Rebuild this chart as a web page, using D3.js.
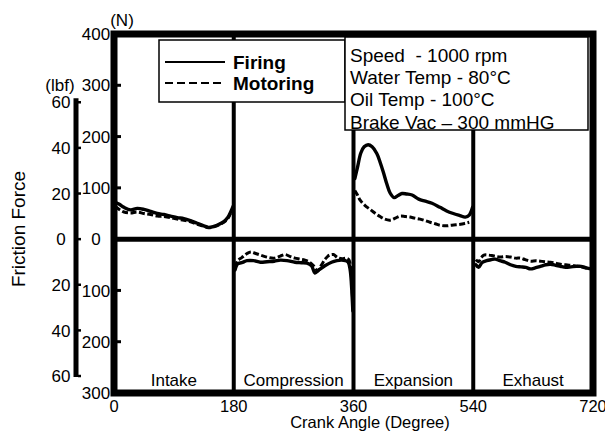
<!DOCTYPE html>
<html>
<head>
<meta charset="utf-8">
<script src="https://cdn.jsdelivr.net/npm/d3@7"></script>
<style>
  html, body { margin: 0; padding: 0; background: #fff; }
  svg { display: block; font-family: "Liberation Sans", Arial, Helvetica, sans-serif; }
  text { fill: #000; }
</style>
</head>
<body>
<svg id="chart" width="605" height="438"></svg>
<script>
// Stroke phases along the crank angle axis
const strokeLabels = ["Intake", "Compression", "Expansion", "Exhaust"];
const crankTicks = [0, 180, 360, 540, 720];

// Force axis ticks (signed: positive above the zero line, negative below)
const newtonTicks = [400, 300, 200, 100, 0, -100, -200, -300];
const lbfTicks = [60, 40, 20, 0, -20, -40, -60];
const N_PER_LBF = 4.448;

// Friction force [crank angle (deg), force (N)] — firing
const firingIntake = [[2,72],[8,68],[15,62],[25,57],[35,60],[45,58],[55,54],[65,50],[75,48],[85,45],[95,42],[105,40],[115,36],[125,31],[135,26],[142,23],[150,25],[158,29],[165,34],[171,42],[175,52],[179,64]];
const firingCompression = [[182,-60],[186,-48],[192,-46],[200,-42],[210,-42],[220,-45],[230,-44],[241,-43],[250,-41],[260,-42],[272,-45],[282,-46],[290,-47],[297,-52],[302,-66],[308,-60],[317,-52],[327,-45],[335,-42],[342,-41],[348,-42],[352,-45],[355,-60],[357,-90],[359,-140]];
const firingExpansion = [[362,118],[366,140],[371,168],[376,180],[382,184],[388,180],[395,167],[400,150],[405,130],[410,108],[415,90],[421,81],[427,85],[433,89],[440,88],[448,86],[458,78],[468,74],[478,70],[490,62],[500,55],[510,50],[520,46],[528,43],[534,47],[539,62]];
const firingExhaust = [[544,-50],[548,-55],[553,-46],[560,-42],[567,-40],[573,-39],[580,-42],[588,-45],[596,-50],[604,-53],[612,-54],[619,-55],[626,-58],[633,-56],[641,-53],[649,-50],[656,-49],[664,-51],[671,-53],[679,-55],[687,-54],[695,-53],[702,-53],[710,-56],[717,-58]];

// Friction force [crank angle (deg), force (N)] — motoring
const motoringIntake = [[2,64],[8,58],[15,53],[25,51],[35,53],[45,50],[55,48],[65,45],[75,44],[85,42],[95,39],[105,37],[115,34],[125,29],[135,25],[142,22],[150,24],[158,28],[165,33],[171,40],[175,50],[179,60]];
const motoringCompression = [[182,-55],[186,-42],[192,-36],[200,-28],[206,-25],[213,-28],[220,-31],[230,-35],[241,-37],[250,-33],[257,-30],[265,-34],[272,-37],[280,-39],[287,-41],[294,-45],[300,-52],[306,-62],[312,-50],[318,-38],[324,-31],[330,-30],[336,-36],[343,-38],[349,-37],[353,-40],[356,-60],[358,-100],[359,-130]];
const motoringExpansion = [[362,95],[366,86],[370,76],[377,66],[385,58],[392,51],[400,44],[407,39],[415,37],[423,41],[430,45],[438,44],[445,43],[452,41],[460,39],[468,36],[475,33],[483,30],[490,27],[500,26],[506,27],[514,28],[521,29],[528,31],[534,33]];
const motoringExhaust = [[544,-40],[548,-44],[552,-36],[556,-31],[562,-31],[568,-32],[575,-34],[581,-35],[588,-34],[596,-35],[604,-37],[611,-37],[618,-40],[626,-43],[634,-42],[641,-43],[648,-44],[656,-45],[664,-47],[671,-49],[679,-50],[687,-51],[695,-53],[702,-54],[708,-56],[714,-58]];

const legendItems = ["Firing", "Motoring"];
const conditions = ["Speed  - 1000 rpm", "Water Temp - 80°C", "Oil Temp - 100°C", "Brake Vac \u2013 300 mmHG"];

const svg = d3.select("#chart");
svg.append("rect").attr("width", 605).attr("height", 438).attr("fill", "#fff");

const x = d3.scaleLinear().domain([0, 720]).range([114, 593]);
const y = d3.scaleLinear().domain([-300, 400]).range([393, 34]);

// Curves
const line = d3.line()
  .x(d => x(d[0]))
  .y(d => y(d[1]))
  .curve(d3.curveCatmullRom.alpha(0.5));

const curves = svg.append("g").attr("fill", "none").attr("stroke", "#000")
  .attr("stroke-linejoin", "round").attr("stroke-linecap", "round");

[firingIntake, firingCompression, firingExpansion, firingExhaust].forEach(seg => {
  curves.append("path").attr("d", line(seg)).attr("stroke-width", 3.4);
});
[motoringIntake, motoringCompression, motoringExpansion, motoringExhaust].forEach(seg => {
  curves.append("path").attr("d", line(seg)).attr("stroke-width", 3)
    .attr("stroke-dasharray", "6,2.5").attr("stroke-linecap", "butt");
});

// Stroke dividers and zero line
svg.append("g").selectAll("line").data([180, 360, 540]).join("line")
  .attr("x1", d => x(d)).attr("x2", d => x(d))
  .attr("y1", y(400)).attr("y2", y(-300))
  .attr("stroke", "#000").attr("stroke-width", 4);

svg.append("line")
  .attr("x1", x(0)).attr("x2", x(720))
  .attr("y1", y(0)).attr("y2", y(0))
  .attr("stroke", "#000").attr("stroke-width", 5);

// Heavy plot frame
svg.append("rect")
  .attr("x", x(0)).attr("y", y(400))
  .attr("width", x(720) - x(0)).attr("height", y(-300) - y(400))
  .attr("fill", "none").attr("stroke", "#000").attr("stroke-width", 7);

// Newton axis: tick notches and absolute-value labels
const nAxis = svg.append("g");
nAxis.selectAll("line").data(newtonTicks.filter(v => v !== 0 && v !== 400 && v !== -300)).join("line")
  .attr("x1", x(0) + 3).attr("x2", x(0) + 7)
  .attr("y1", d => y(d)).attr("y2", d => y(d))
  .attr("stroke", "#000").attr("stroke-width", 3);
nAxis.selectAll("text").data(newtonTicks).join("text")
  .attr("x", 96).attr("y", d => y(d)).attr("dy", "0.36em")
  .attr("text-anchor", "middle").attr("font-size", 17)
  .text(d => Math.abs(d));
svg.append("text").attr("x", 122).attr("y", 26)
  .attr("text-anchor", "middle").attr("font-size", 17).text("(N)");

// Pound-force axis
const lbfY = v => y(v * N_PER_LBF);
const lbfAxis = svg.append("g");
lbfAxis.append("line")
  .attr("x1", 76).attr("x2", 76)
  .attr("y1", lbfY(60) - 4).attr("y2", lbfY(-60) + 1)
  .attr("stroke", "#000").attr("stroke-width", 5);
lbfAxis.selectAll("line.tick").data(lbfTicks).join("line").attr("class", "tick")
  .attr("x1", 78).attr("x2", 81)
  .attr("y1", d => lbfY(d)).attr("y2", d => lbfY(d))
  .attr("stroke", "#000").attr("stroke-width", 2.5);
lbfAxis.selectAll("text").data(lbfTicks).join("text")
  .attr("x", 61).attr("y", d => lbfY(d)).attr("dy", "0.36em")
  .attr("text-anchor", "middle").attr("font-size", 17)
  .text(d => Math.abs(d));
svg.append("text").attr("x", 60).attr("y", 91)
  .attr("text-anchor", "middle").attr("font-size", 17).text("(lbf)");

svg.append("text")
  .attr("transform", "translate(18,229) rotate(-90)")
  .attr("dy", "0.36em").attr("text-anchor", "middle").attr("font-size", 19)
  .text("Friction Force");

// Crank angle axis
svg.append("g").selectAll("text").data(crankTicks).join("text")
  .attr("x", d => x(d)).attr("y", 412)
  .attr("text-anchor", "middle").attr("font-size", 16.5)
  .text(d => d);
svg.append("text").attr("x", 370).attr("y", 428)
  .attr("text-anchor", "middle").attr("font-size", 16.5)
  .text("Crank Angle (Degree)");

// Stroke names along the bottom
svg.append("g").selectAll("text").data(strokeLabels).join("text")
  .attr("x", (d, i) => x(i * 180 + 90)).attr("y", 386)
  .attr("text-anchor", "middle").attr("font-size", 17)
  .text(d => d);

// Legend
const legend = svg.append("g");
legend.append("rect").attr("x", 159).attr("y", 40).attr("width", 186).attr("height", 62)
  .attr("fill", "#fff").attr("stroke", "#000").attr("stroke-width", 1.5);
legendItems.forEach((name, i) => {
  const ly = 62 + i * 21;
  legend.append("line").attr("x1", 165).attr("x2", 225).attr("y1", ly).attr("y2", ly)
    .attr("stroke", "#000").attr("stroke-width", 2)
    .attr("stroke-dasharray", i === 1 ? "8,4" : null);
  legend.append("text").attr("x", 233).attr("y", ly).attr("dy", "0.36em")
    .attr("font-size", 19).attr("font-weight", "bold").text(name);
});

// Operating conditions box
const info = svg.append("g");
info.append("rect").attr("x", 345).attr("y", 37).attr("width", 243).attr("height", 93)
  .attr("fill", "#fff").attr("stroke", "#000").attr("stroke-width", 1.5);
info.selectAll("text").data(conditions).join("text")
  .attr("x", 350).attr("y", (d, i) => 61.5 + i * 22.4)
  .attr("font-size", 19).style("white-space", "pre")
  .text(d => d);
</script>
</body>
</html>
